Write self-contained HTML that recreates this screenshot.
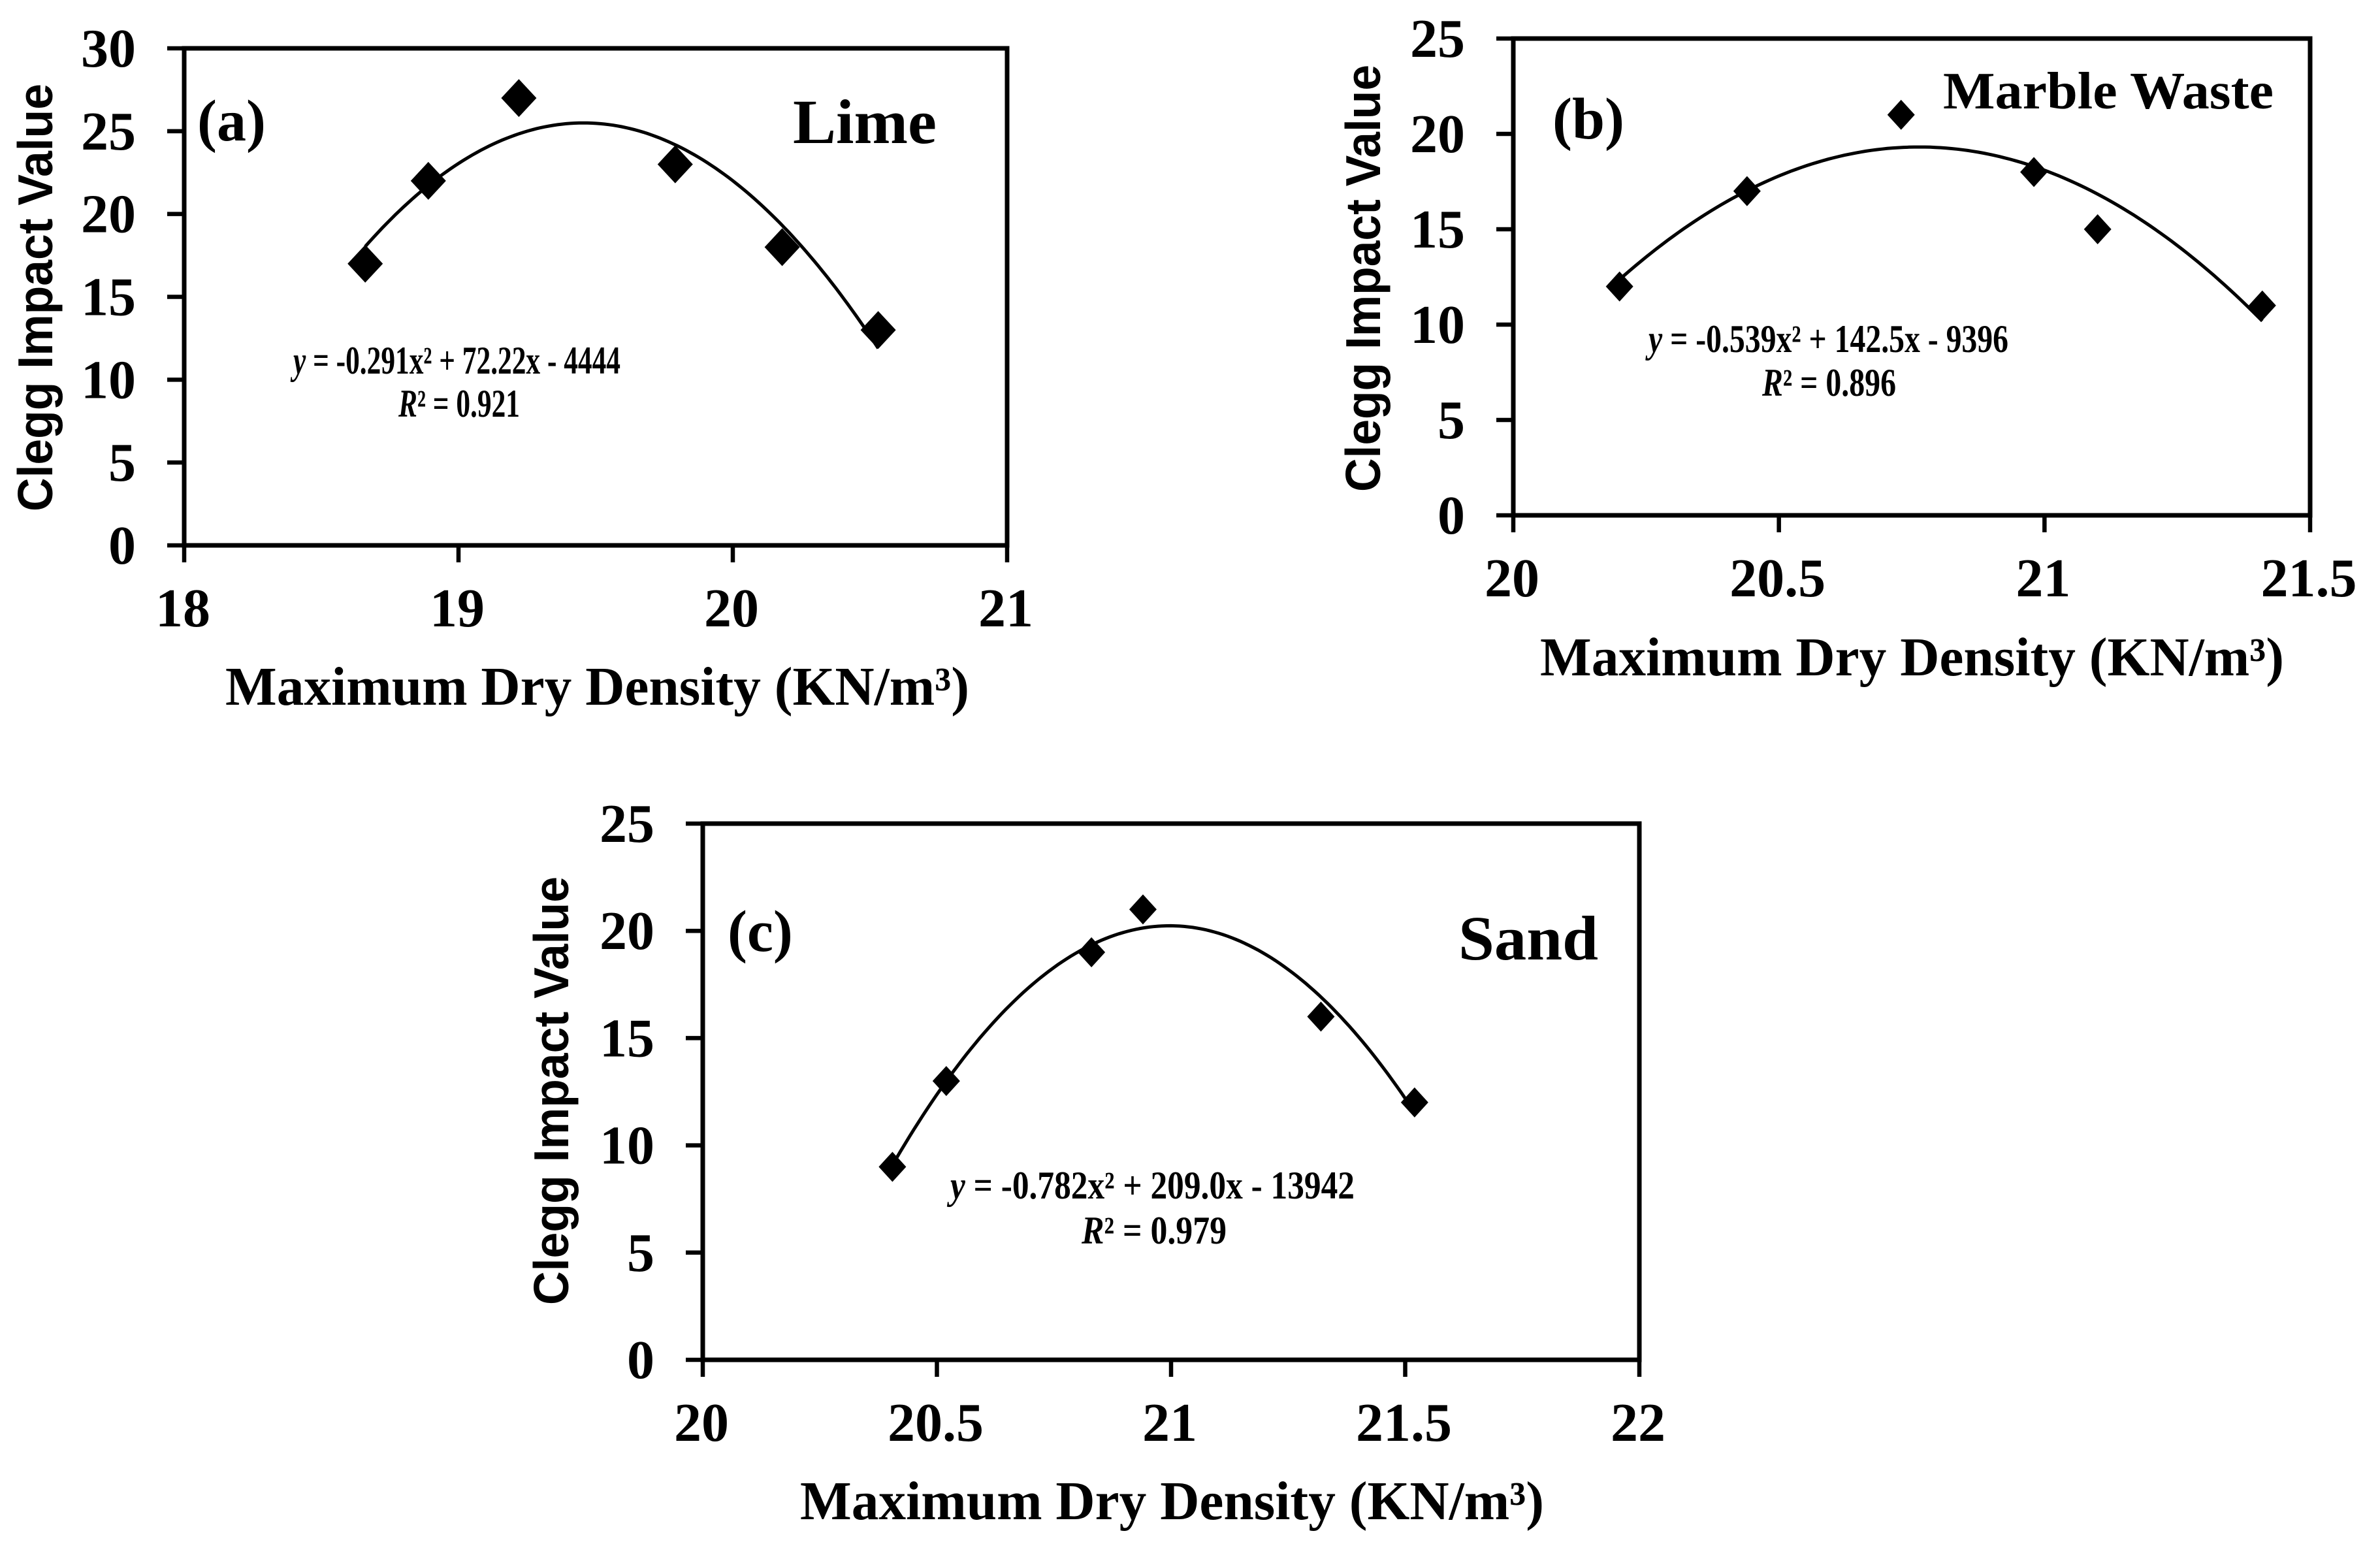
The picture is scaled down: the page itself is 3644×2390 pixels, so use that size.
<!DOCTYPE html>
<html lang="en">
<head>
<meta charset="utf-8">
<title>Clegg Impact Value vs Maximum Dry Density</title>
<style>
html,body{margin:0;padding:0;background:#fff;}
svg{display:block;}
text{font-family:"Liberation Serif",serif;font-weight:bold;fill:#000;}
.ylab{font-family:"Liberation Sans",sans-serif;}
</style>
</head>
<body>
<svg id="fig" xmlns="http://www.w3.org/2000/svg" width="3644" height="2390" viewBox="0 0 3644 2390">
  <rect width="3644" height="2390" fill="#fff"/>

  <g id="panel-a">
    <text x="302" y="215" font-size="90">(a)</text>
    <text x="1214" y="219" font-size="96" textLength="220" lengthAdjust="spacingAndGlyphs">Lime</text>
    <text x="449" y="572" font-size="60" textLength="501" lengthAdjust="spacingAndGlyphs"><tspan font-style="italic">y</tspan> = -0.291x² + 72.22x - 4444</text>
    <text x="610" y="638" font-size="60" textLength="186" lengthAdjust="spacingAndGlyphs"><tspan font-style="italic">R</tspan>² = 0.921</text>
    <text x="345" y="1079" font-size="84" textLength="1139" lengthAdjust="spacingAndGlyphs">Maximum Dry Density (KN/m³)</text>
    <text class="ylab" transform="translate(80,783) rotate(-90)" font-size="75" textLength="655" lengthAdjust="spacingAndGlyphs">Clegg Impact Value</text>
  </g>

  <g id="panel-b">
    <text x="2377" y="212" font-size="90">(b)</text>
    <text x="2975" y="166" font-size="80" textLength="506" lengthAdjust="spacingAndGlyphs">Marble Waste</text>
    <text x="2524" y="539" font-size="60" textLength="551" lengthAdjust="spacingAndGlyphs"><tspan font-style="italic">y</tspan> = -0.539x² + 142.5x - 9396</text>
    <text x="2698" y="606" font-size="60" textLength="205" lengthAdjust="spacingAndGlyphs"><tspan font-style="italic">R</tspan>² = 0.896</text>
    <text x="2358" y="1034" font-size="84" textLength="1139" lengthAdjust="spacingAndGlyphs">Maximum Dry Density (KN/m³)</text>
    <text class="ylab" transform="translate(2113,753) rotate(-90)" font-size="75" textLength="654" lengthAdjust="spacingAndGlyphs">Clegg Impact Value</text>
  </g>

  <g id="panel-c">
    <text x="1114" y="1456" font-size="90">(c)</text>
    <text x="2233" y="1469" font-size="96" textLength="214" lengthAdjust="spacingAndGlyphs">Sand</text>
    <text x="1455" y="1835" font-size="60" textLength="619" lengthAdjust="spacingAndGlyphs"><tspan font-style="italic">y</tspan> = -0.782x² + 209.0x - 13942</text>
    <text x="1656" y="1904" font-size="60" textLength="222" lengthAdjust="spacingAndGlyphs"><tspan font-style="italic">R</tspan>² = 0.979</text>
    <text x="1225" y="2326" font-size="84" textLength="1139" lengthAdjust="spacingAndGlyphs">Maximum Dry Density (KN/m³)</text>
    <text class="ylab" transform="translate(870,1998) rotate(-90)" font-size="75" textLength="656" lengthAdjust="spacingAndGlyphs">Clegg Impact Value</text>
  </g>
</svg>

<script>
// Panel (a) Lime
const limeDensity = [18.66, 18.89, 19.22, 19.79, 20.18, 20.53];
const limeClegg = [17, 22, 27, 23, 18, 13];
const limeXTicks = ["18", "19", "20", "21"];
const limeYTicks = ["0", "5", "10", "15", "20", "25", "30"];

// Panel (b) Marble Waste
const marbleDensity = [20.2, 20.44, 20.73, 20.98, 21.1, 21.41];
const marbleClegg = [12, 17, 21, 18, 15, 11];
const marbleXTicks = ["20", "20.5", "21", "21.5"];
const marbleYTicks = ["0", "5", "10", "15", "20", "25"];

// Panel (c) Sand
const sandDensity = [20.405, 20.52, 20.83, 20.94, 21.32, 21.52];
const sandClegg = [9, 13, 19, 21, 16, 12];
const sandXTicks = ["20", "20.5", "21", "21.5", "22"];
const sandYTicks = ["0", "5", "10", "15", "20", "25"];

const NS = 'http://www.w3.org/2000/svg';

// Least-squares quadratic through the points: this is what the trendline shows.
function quadraticFit(xs, ys) {
  const n = xs.length;
  const mean = xs.reduce(function (a, b) { return a + b; }, 0) / n;
  const S = [0, 0, 0, 0, 0];
  const T = [0, 0, 0];
  for (let i = 0; i < n; i++) {
    const u = xs[i] - mean;
    for (let k = 0; k < 5; k++) S[k] += Math.pow(u, k);
    for (let k = 0; k < 3; k++) T[k] += ys[i] * Math.pow(u, k);
  }
  const m = [[S[0], S[1], S[2], T[0]], [S[1], S[2], S[3], T[1]], [S[2], S[3], S[4], T[2]]];
  for (let c = 0; c < 3; c++) {
    for (let r = 0; r < 3; r++) {
      if (r === c) continue;
      const f = m[r][c] / m[c][c];
      for (let k = c; k < 4; k++) m[r][k] -= f * m[c][k];
    }
  }
  const a0 = m[0][3] / m[0][0], a1 = m[1][3] / m[1][1], a2 = m[2][3] / m[2][2];
  return function (x) { const u = x - mean; return a0 + a1 * u + a2 * u * u; };
}

function drawPanel(cfg) {
  const g = document.getElementById(cfg.id);
  const xMin = parseFloat(cfg.xTicks[0]), xMax = parseFloat(cfg.xTicks[cfg.xTicks.length - 1]);
  const yMin = parseFloat(cfg.yTicks[0]), yMax = parseFloat(cfg.yTicks[cfg.yTicks.length - 1]);
  const sx = function (v) { return cfg.left + (v - xMin) / (xMax - xMin) * (cfg.right - cfg.left); };
  const sy = function (v) { return cfg.bottom - (v - yMin) / (yMax - yMin) * (cfg.bottom - cfg.top); };

  const frame = document.createElementNS(NS, 'rect');
  
  
  frame.setAttribute('x', cfg.left);
  frame.setAttribute('y', cfg.top);
  frame.setAttribute('width', cfg.right - cfg.left);
  frame.setAttribute('height', cfg.bottom - cfg.top);
  frame.setAttribute('fill', 'none');
  frame.setAttribute('stroke', '#000');
  frame.setAttribute('stroke-width', '7');
  g.appendChild(frame);

  cfg.yTicks.forEach(function (label) {
    const y = sy(parseFloat(label));
    const tick = document.createElementNS(NS, 'line');
    
    
    tick.setAttribute('x1', cfg.left - 26);
    tick.setAttribute('x2', cfg.left);
    tick.setAttribute('y1', y);
    tick.setAttribute('y2', y);
    tick.setAttribute('stroke', '#000');
    tick.setAttribute('stroke-width', '6.5');
    g.appendChild(tick);
    const t = document.createElementNS(NS, 'text');
    
    
    t.setAttribute('x', cfg.yLabelEnd);
    t.setAttribute('y', y + 28);
    t.setAttribute('text-anchor', 'end');
    t.setAttribute('font-size', '84');
    t.textContent = label;
    g.appendChild(t);
  });

  cfg.xTicks.forEach(function (label) {
    const x = sx(parseFloat(label));
    const tick = document.createElementNS(NS, 'line');
    
    
    tick.setAttribute('x1', x);
    tick.setAttribute('x2', x);
    tick.setAttribute('y1', cfg.bottom);
    tick.setAttribute('y2', cfg.bottom + 26);
    tick.setAttribute('stroke', '#000');
    tick.setAttribute('stroke-width', '6.5');
    g.appendChild(tick);
    const t = document.createElementNS(NS, 'text');
    
    
    t.setAttribute('x', x - 2);
    t.setAttribute('y', cfg.xLabelBase);
    t.setAttribute('text-anchor', 'middle');
    t.setAttribute('font-size', '84');
    t.textContent = label;
    g.appendChild(t);
  });

  const fit = quadraticFit(cfg.xs, cfg.ys);
  const lo = Math.min.apply(null, cfg.xs), hi = Math.max.apply(null, cfg.xs);
  let d = '';
  for (let i = 0; i <= 120; i++) {
    const v = lo + (hi - lo) * i / 120;
    d += (i ? 'L' : 'M') + sx(v).toFixed(1) + ' ' + sy(fit(v)).toFixed(1);
  }
  const curve = document.createElementNS(NS, 'path');
  
  
  curve.setAttribute('d', d);
  curve.setAttribute('fill', 'none');
  curve.setAttribute('stroke', '#000');
  curve.setAttribute('stroke-width', '5');
  g.appendChild(curve);

  cfg.xs.forEach(function (xv, i) {
    const cx = sx(xv), cy = sy(cfg.ys[i]);
    const p = document.createElementNS(NS, 'polygon');
    
    
    p.setAttribute('points', [cx, cy - cfg.mh, cx + cfg.mw, cy, cx, cy + cfg.mh, cx - cfg.mw, cy].join(' '));
    p.setAttribute('fill', '#000');
    g.appendChild(p);
  });
}

drawPanel({ id: 'panel-a', xs: limeDensity, ys: limeClegg, xTicks: limeXTicks, yTicks: limeYTicks,
  left: 282, right: 1542, top: 74, bottom: 835, yLabelEnd: 208, xLabelBase: 959, mw: 27, mh: 29 });
drawPanel({ id: 'panel-b', xs: marbleDensity, ys: marbleClegg, xTicks: marbleXTicks, yTicks: marbleYTicks,
  left: 2317, right: 3537, top: 59, bottom: 789, yLabelEnd: 2243, xLabelBase: 913, mw: 21, mh: 23 });
drawPanel({ id: 'panel-c', xs: sandDensity, ys: sandClegg, xTicks: sandXTicks, yTicks: sandYTicks,
  left: 1076, right: 2510, top: 1261, bottom: 2082, yLabelEnd: 1002, xLabelBase: 2206, mw: 21, mh: 23 });
</script>
</body>
</html>
